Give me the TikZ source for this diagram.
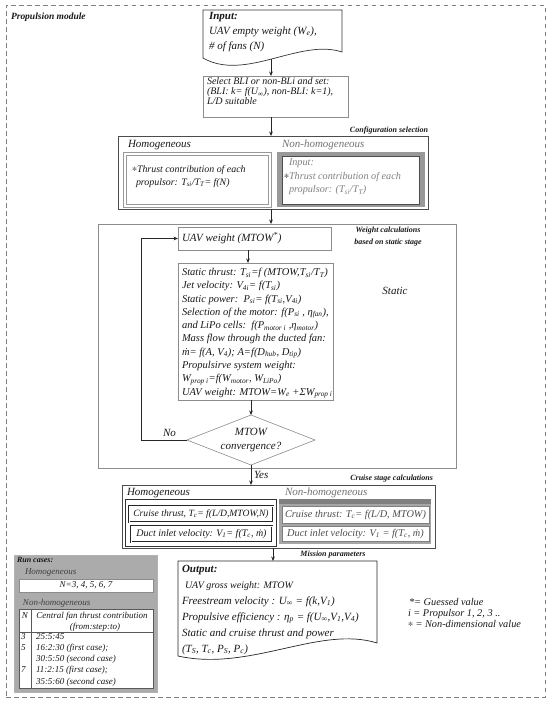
\documentclass[tikz,border=0pt]{standalone}
\usepackage{fontspec}
\setmainfont{Liberation Serif}
\newfontfamily\djv{DejaVu Sans}
\usetikzlibrary{shapes.geometric,arrows.meta}
\newcommand\lo[1]{\textsubscript{#1}}
\newcommand\fsz[2]{\fontsize{#1}{#2}\selectfont}
\newcommand\ndstar{{\djv\fontsize{6}{6}\selectfont\color{black!60}\raisebox{0.35ex}{✻}}}
\tikzset{
  gbox/.style={draw=black!45,line width=0.6pt},
  dbox/.style={draw=black!70,line width=0.8pt},
  arr/.style={-{Stealth[length=4.5pt,width=3.6pt]},draw=black!85,line width=0.6pt},
  lab/.style={font=\bfseries\itshape\fsz{8}{12}},
  sz/.style n args={2}{anchor=north west,minimum width=#1,minimum height=#2},
  it11/.style={font=\itshape\fsz{11}{13}},
  it10/.style={font=\itshape\fsz{10.3}{12}},
  tab/.style={font=\itshape\fsz{9}{10}}}
\begin{document}
\begin{tikzpicture}[x=1pt,y=-1pt,every node/.style={inner sep=0pt,outer sep=0pt,text=black!90}]
\useasboundingbox (0,0) rectangle (550,702);
\fill[white] (0,0) rectangle (550,702);
% axes for connectors
\coordinate (ax) at (271,0);
\coordinate (bx) at (248,0);
\coordinate (cx) at (251,0);
\coordinate (lx) at (141,0);
\coordinate (ox) at (273,0);
% outer module
\node[sz={539}{692},draw=black!50,line width=0.9pt,dash pattern=on 4.5pt off 3.5pt] (mod) at (6,5) {};
\node[anchor=west,font=\bfseries\itshape\fsz{9.5}{11}] (modl) at (11,17) {Propulsion module};
% input
\node[sz={139}{46}] (inp) at (203,10) {};
\draw[draw=black!80,line width=0.7pt] (inp.north west) -- (inp.north east) -- (342,52) .. controls (300,38) and (245,82) .. (203,58) -- cycle;
\node[anchor=north west,align=left,font=\itshape\fsz{11}{15}] (inpt) at (209,12) {\textbf{Input:}\\UAV empty weight (W\lo{e}),\\\# of fans (N)};
\coordinate (inpb) at (271,59);
% select
\node[gbox,sz={145}{41}] (sel) at (203,76) {};
\node[anchor=north west,align=left,font=\itshape\fsz{10}{10}] (selt) at (207,78) {Select BLI or non-BLi and set:\\(BLI: k= f(U\lo{∞}), non-BLI: k=1),\\L/D suitable};
\draw[arr] (inpb) -- (inpb |- sel.north);
% configuration
\node[dbox,sz={310}{73}] (cfg) at (118,136) {};
\draw[arr] (sel.south -| ax) -- (cfg.north -| ax);
\node[lab,anchor=south east] (cfgl) at (428,134) {Configuration selection};
\node[it11,anchor=west] (hom1) at (128,145) {Homogeneous};
\node[draw=black!40,double,double distance=2.8pt,line width=0.5pt,sz={145}{52}] (hb1) at (125,154) {};
\node[anchor=north west,align=left,font=\itshape\fsz{9.9}{13}] (hb1t) at (132,165.5) {\ndstar Thrust contribution of each\\\hspace{4pt}propulsor: T\lo{si}/T\lo{T}= f(N)};
\node[it11,anchor=west,text=black!55] (nh1) at (282,145) {Non-homogeneous};
\node[fill=black!40,sz={148}{55}] (nb1) at (277,152) {};
\node[fill=white,draw=black!70,line width=0.5pt,sz={137}{48}] (nb1i) at (282,156) {};
\node[anchor=north west,align=left,font=\itshape\fsz{10.2}{13.5},text=black!50] (nb1t) at (284,159) {\hspace{5pt}Input:\\\ndstar Thrust contribution of each\\\hspace{5pt}propulsor: (T\lo{si}/T\lo{T})};
% static stage
\node[gbox,sz={358}{244}] (sta) at (98,224) {};
\draw[arr] (cfg.south -| ax) -- (sta.north -| ax);
\node[gbox,sz={153}{23}] (uav) at (178,227) {};
\node[it11,anchor=west] (uavt) at (182,238.5) {UAV weight (MTOW\textsuperscript{*})};
\node[gbox,sz={155}{137}] (calc) at (178,263) {};
\draw[arr] (uav.south -| bx) -- (calc.north -| bx);
\node[anchor=north west,align=left,font=\itshape\fsz{10.5}{13.3}] (calct) at (182,268) {Static thrust: T\lo{si}=f (MTOW,T\lo{si}/T\lo{T})\\
Jet velocity: V\lo{4i}= f(T\lo{si})\\
Static power:\ \ P\lo{si}= f(T\lo{si},V\lo{4i})\\
Selection of the motor: f(P\lo{si} , η\lo{fan}),\\
and LiPo cells:\ \ f(P\lo{motor i} ,η\lo{motor})\\
Mass flow through the ducted fan:\\
\.{m}= f(A, V\lo{4}); A=f(D\lo{hub}, D\lo{tip})\\
Propulsirve system weight:\\
W\lo{prop i}=f(W\lo{motor}, W\lo{LiPo})\\
UAV weight: MTOW=W\lo{e} +ΣW\lo{prop i}};
\node[lab,align=center] (wcl) at (388,237) {Weight calculations\\based on static stage};
\node[it11] (stl) at (395,291) {Static};
\node[diamond,draw=black!45,line width=0.6pt,minimum width=128,minimum height=50] (dia) at (251,440) {};
\node[align=center,font=\itshape\fsz{11}{14}] (diat) at (251,440) {MTOW\\convergence?};
\draw[arr] (calc.south -| cx) -- (dia.north);
\draw[arr] (dia.west) -- (dia.west -| lx) |- (uav.west);
\node[it11,anchor=west] (nol) at (163,433) {No};
% cruise stage
\node[dbox,sz={313}{63}] (cru) at (122,485) {};
\draw[arr] (dia.south) -- (cru.north -| dia.south);
\node[it11,anchor=west] (yesl) at (254,475) {Yes};
\node[lab,anchor=south east] (crul) at (433,482) {Cruise stage calculations};
\node[it11,anchor=west] (hom2) at (127,493) {Homogeneous};
\node[draw=black!80,line width=0.6pt,sz={151}{47}] (hb2) at (125,499) {};
\node[draw=black!85,double,double distance=0.8pt,line width=0.4pt,sz={144}{16}] (hb2a) at (129,506) {};
\node[font=\itshape\fsz{9.6}{12}] (hb2at) at (hb2a) {Cruise thrust, T\lo{c}= f(L/D,MTOW,N)};
\node[draw=black!85,double,double distance=0.8pt,line width=0.4pt,sz={141}{16}] (hb2b) at (131,526) {};
\node[font=\itshape\fsz{10}{12}] (hb2bt) at (hb2b) {Duct inlet velocity: V\lo{1}= f(T\lo{c}, \.{m})};
\node[it11,anchor=west,text=black!55] (nh2) at (285,493) {Non-homogeneous};
\node[fill=black!35,sz={152}{45}] (nb2) at (279,499) {};
\node[fill=black!50,sz={152}{5}] (nb2s) at (279,499) {};
\node[fill=white,draw=black!50,line width=0.5pt,sz={147}{17}] (nb2a) at (282,506) {};
\node[it10,text=black!70] (nb2at) at (nb2a) {Cruise thrust: T\lo{c}= f(L/D, MTOW)};
\node[fill=white,draw=black!50,line width=0.5pt,sz={147}{15}] (nb2b) at (282,526) {};
\node[it10,text=black!70] (nb2bt) at (nb2b) {Duct inlet velocity: V\lo{1} = f(T\lo{c}, \.{m})};
% output
\node[sz={199}{82}] (out) at (178,561) {};
\draw[draw=black!85,line width=0.7pt] (out.north west) -- (out.north east) -- (377,643) .. controls (320,625) and (250,672) .. (178,656) -- cycle;
\draw[arr] (cru.south -| ox) -- (out.north -| ox);
\node[lab] (mpl) at (333,555) {Mission parameters};
\node[anchor=north west,align=left,font=\itshape\fsz{11}{16}] (outt) at (182,565) {\textbf{Output:}\\
\hspace{3pt}{\fsz{10}{16}UAV gross weight: MTOW}\\
Freestream velocity : U\lo{∞} = f(k,V\lo{1})\\
Propulsive efficiency : η\lo{p} = f(U\lo{∞},V\lo{1},V\lo{4})\\
Static and cruise thrust and power\\
(T\lo{S}, T\lo{c}, P\lo{S}, P\lo{c})};
% legend
\node[anchor=north west,align=left,font=\itshape\fsz{10.3}{10.8}] (leg) at (408,598.5) {\hspace{1pt}*= Guessed value\\
i = Propulsor 1, 2, 3 ..\\
\ndstar\ = Non-dimensional value};
% run cases
\node[fill=black!33,draw=black!30,sz={143}{137}] (run) at (14,555) {};
\node[lab,anchor=west] (runl) at (17,560) {Run cases:};
\node[tab,anchor=west,text=black!75] (rh) at (25,572.5) {Homogeneous};
\node[fill=white,draw=black!45,line width=0.5pt,sz={134}{13}] (rhb) at (19,579) {};
\node[tab] (rhbt) at (rhb) {N=3, 4, 5, 6, 7};
\node[tab,anchor=west,text=black!75] (rn) at (23,603) {Non-homogeneous};
\node[fill=white,draw=black!65,line width=0.5pt,sz={134}{79}] (tb) at (19,609) {};
\coordinate (tc) at (31,0);
\coordinate (tr) at (0,632);
\draw[black!65,line width=0.5pt] (tb.north -| tc) -- (tb.south -| tc);
\draw[black!65,line width=0.5pt] (tb.west |- tr) -- (tb.east |- tr);
\node[tab] (th1) at (25,616) {N};
\node[tab] (th2) at (92,616) {Central fan thrust contribution};
\node[tab] (th3) at (95,627) {(from:step:to)};
\node[tab,anchor=west] (r1a) at (21,637) {3};
\node[tab,anchor=west] (r1b) at (36,637) {25:5:45};
\node[tab,anchor=west] (r2a) at (21,648) {5};
\node[tab,anchor=west] (r2b) at (36,648) {16:2:30 (first case);};
\node[tab,anchor=west] (r2c) at (36,659) {30:5:50 (second case)};
\node[tab,anchor=west] (r3a) at (21,670) {7};
\node[tab,anchor=west] (r3b) at (36,670) {11:2:15 (first case);};
\node[tab,anchor=west] (r3c) at (36,682) {35:5:60 (second case)};
\end{tikzpicture}
\end{document}
